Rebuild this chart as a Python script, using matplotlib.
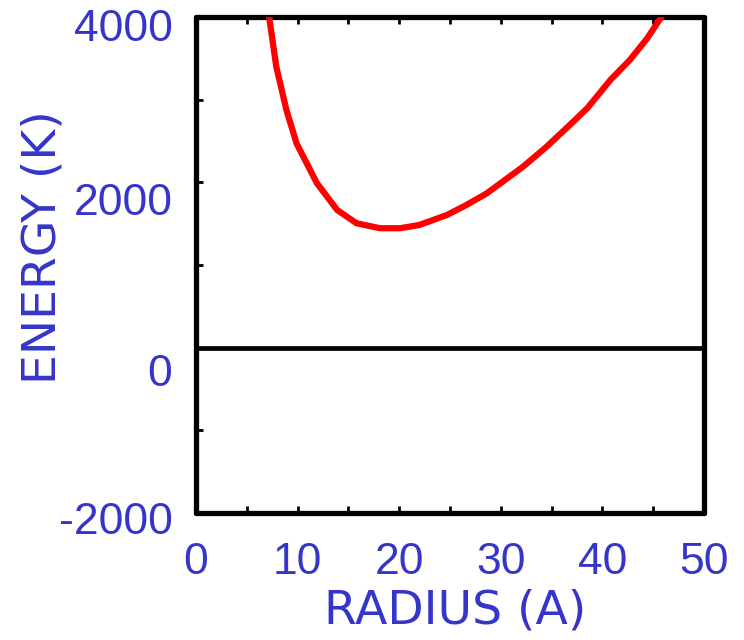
import matplotlib
matplotlib.use("Agg")
import matplotlib.pyplot as plt
from matplotlib.transforms import ScaledTranslation
import numpy as np

plt.rcParams["axes.unicode_minus"] = False

# Data
radius = [7.2, 7.9, 8.9, 9.9, 11.9, 13.9, 15.8, 18.1, 20.1, 22.0, 24.7, 26.6,
          28.6, 32.2, 34.5, 36.8, 38.5, 40.8, 42.7, 44.4, 45.8]
energy = [4000, 3400, 2875, 2470, 1990, 1665, 1505, 1445, 1445, 1485, 1605, 1725,
          1865, 2190, 2430, 2695, 2895, 3240, 3480, 3740, 4000]
baseline_level = 0
xticks = [0, 10, 20, 30, 40, 50]
yticks = [-2000, 0, 2000, 4000]
xlabel = "RADIUS (A)"
ylabel = "ENERGY (K)"

blue = "#3535c9"

fig = plt.figure(figsize=(7.44, 6.4), dpi=100)
ax = fig.add_axes([196/744, 1-513/640, 508/744, 496/640])

ax.plot(radius, energy, color="#ff0000", lw=4.5, solid_capstyle="round",
        solid_joinstyle="round", zorder=3, clip_on=True)
ax.axhline(baseline_level, color="black", lw=3.4, zorder=2)

ax.set_xlim(0, 50)
ax.set_ylim(-2000, 4000)

for s in ax.spines.values():
    s.set_linewidth(3.8)
    s.set_color("black")
    s.set_capstyle("round")

ax.set_xticks(xticks)
ax.set_xticks(np.arange(0, 51, 5), minor=True)
ax.set_yticks(yticks)
ax.set_yticks(np.arange(-2000, 4001, 1000), minor=True)

ax.tick_params(axis="x", which="both", direction="in", top=True, bottom=True,
               length=5, width=2, color="black")
ax.tick_params(axis="y", which="both", direction="in", left=True, right=False,
               length=5, width=2, color="black")
ax.tick_params(axis="x", which="major", labelsize=32, labelcolor=blue, pad=21)
ax.tick_params(axis="y", which="major", labelsize=32, labelcolor=blue, pad=17)

for lab in ax.get_xticklabels() + ax.get_yticklabels():
    lab.set_fontfamily(["Liberation Sans", "DejaVu Sans"])

# small downward shifts of y tick labels as in the reference
shifts_px = {-2000: 5, 0: 22, 2000: 17, 4000: 8}
for val, lab in zip(yticks, ax.get_yticklabels()):
    lab.set_transform(lab.get_transform() +
                      ScaledTranslation(0, -shifts_px[val]/100, fig.dpi_scale_trans))

fig.text(455/744, 1-611/640, xlabel, ha="center", va="center", fontsize=34,
         color=blue, family="DejaVu Sans")
fig.text(43/744, 1-247/640, ylabel, ha="center", va="center", fontsize=34,
         color=blue, rotation=90, family="DejaVu Sans")

fig.savefig("out.png", dpi=100)
